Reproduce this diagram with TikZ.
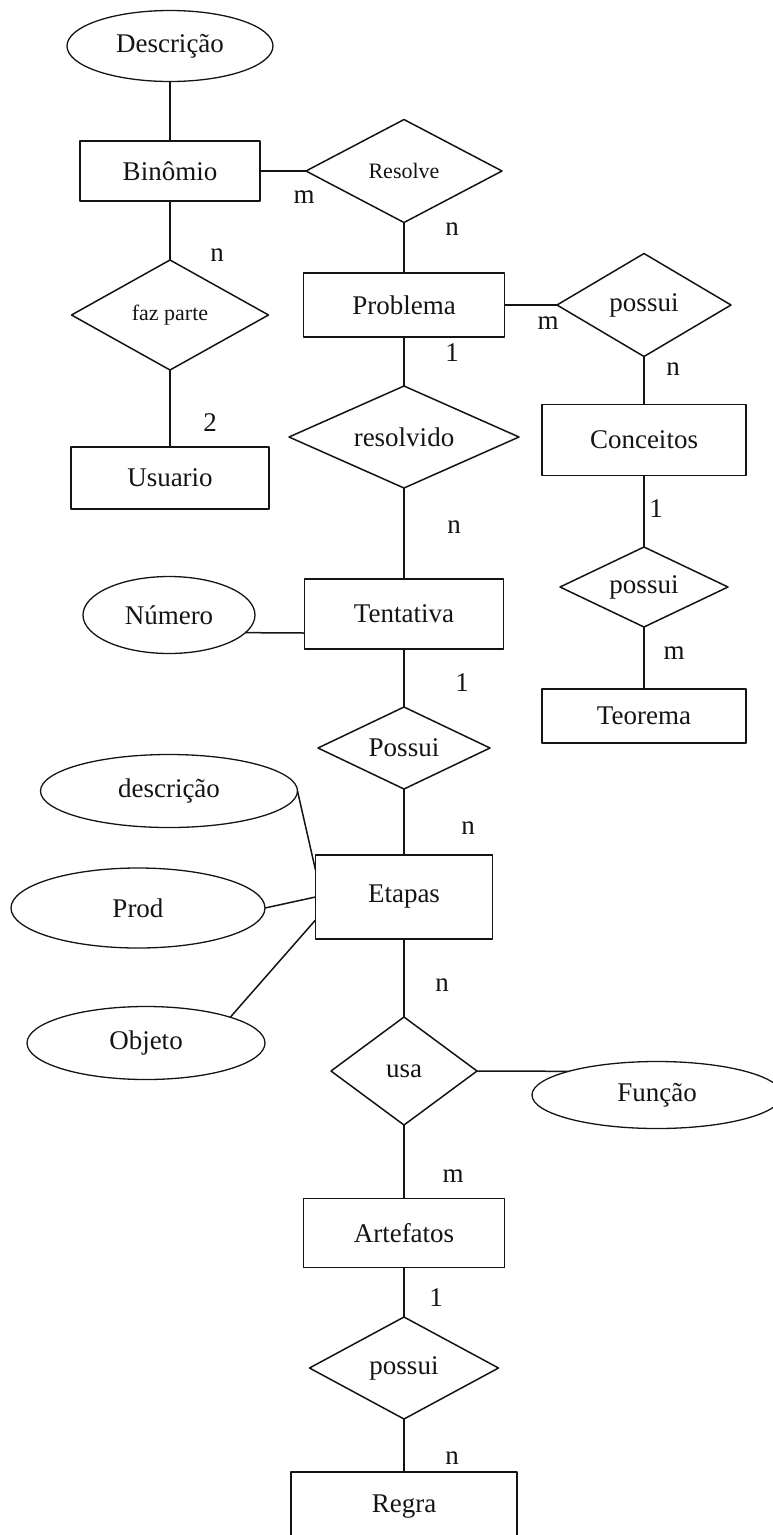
\documentclass[tikz,border=0pt]{standalone}
\usepackage{fontspec}
\setmainfont{Liberation Serif}
\usetikzlibrary{shapes.geometric,calc}
\definecolor{erink}{RGB}{20,20,20}
\newcommand{\erfont}{\fontsize{27}{30}\selectfont}
\newcommand{\ersmall}{\fontsize{22}{25}\selectfont}
\tikzset{
  erbox/.style={
    draw=erink, line width=1.5pt, inner sep=0pt, outer sep=0pt,
    align=center, font=\erfont, text=erink
  },
  ent/.style={erbox, rectangle},
  rel/.style={erbox, diamond, aspect=2},
  att/.style={erbox, ellipse, line width=1.3pt},
  lnk/.style={draw=erink, line width=1.5pt},
  card/.style={font=\erfont, text=erink, inner sep=0pt},
  every picture/.append style={line join=round}
}

\begin{document}
\begin{tikzpicture}[x=1pt, y=-1pt]
  \useasboundingbox (0,0) rectangle (773,1535);
  \clip (0,0) rectangle (773,1535);
  % entidades
  \node[ent, minimum width=180, minimum height=60] (binomio) at (170,171) {Binômio};
  \node[ent, minimum width=198, minimum height=62] (usuario) at (170,478) {Usuario};
  \node[ent, minimum width=201, minimum height=64] (problema) at (404,305) {Problema};
  \node[ent, minimum width=204, minimum height=71] (conceitos) at (644,440) {Conceitos};
  \node[ent, minimum width=204, minimum height=54] (teorema) at (644,716) {Teorema};
  \node[ent, minimum width=199, minimum height=70] (tentativa) at (404,614) {Tentativa};
  \node[ent, minimum width=177, minimum height=84] (etapas) at (404,897) {Etapas};
  \node[ent, minimum width=201, minimum height=69] (artefatos) at (404,1233) {Artefatos};
  \node[ent, minimum width=226, minimum height=70] (regra) at (404,1507) {Regra};
  % relacionamentos
  \node[rel, font=\ersmall, minimum width=196, minimum height=103] (resolve) at (404,171) {Resolve};
  \node[rel, font=\ersmall, minimum width=197, minimum height=110] (fazparte) at (170,315) {faz parte};
  \node[rel, minimum width=174, minimum height=103] (possuiA) at (644,305) {possui};
  \node[rel, minimum width=230, minimum height=102] (resolvido) at (404,437) {resolvido};
  \node[rel, minimum width=168, minimum height=80] (possuiB) at (644,587) {possui};
  \node[rel, minimum width=172, minimum height=82] (possuiC) at (404,748) {Possui};
  \node[rel, minimum width=146, minimum height=108] (usa) at (404,1071) {usa};
  \node[rel, minimum width=189, minimum height=102] (possuiD) at (404,1368) {possui};
  % atributos
  \node[att, minimum width=206, minimum height=71] (descricao) at (170,46) {Descrição};
  \node[att, minimum width=172, minimum height=77] (numero) at (169,615) {Número};
  \node[att, minimum width=257, minimum height=73] (descr) at (169,791) {descrição};
  \node[att, minimum width=254, minimum height=80] (prod) at (138,908) {Prod};
  \node[att, minimum width=238, minimum height=73] (objeto) at (146,1043) {Objeto};
  \node[att, minimum width=250, minimum height=67] (funcao) at (657,1095) {Função};
  % pontos de ligacao
  \coordinate (tentW) at ($(tentativa.west)+(0,19)$);
  \coordinate (etapasA) at ($(etapas.west)+(0,-27)$);
  \coordinate (etapasC) at ($(etapas.west)+(0,23)$);
  % ligacoes
  \draw[lnk] (descricao) -- (binomio);
  \draw[lnk] (binomio) -- (resolve);
  \draw[lnk] (binomio) -- (fazparte);
  \draw[lnk] (fazparte) -- (usuario);
  \draw[lnk] (resolve) -- (problema);
  \draw[lnk] (problema) -- (possuiA);
  \draw[lnk] (possuiA) -- (conceitos);
  \draw[lnk] (conceitos) -- (possuiB);
  \draw[lnk] (possuiB) -- (teorema);
  \draw[lnk] (problema) -- (resolvido);
  \draw[lnk] (resolvido) -- (tentativa);
  \draw[lnk] (numero.-13) -- (tentW);
  \draw[lnk] (tentativa) -- (possuiC);
  \draw[lnk] (possuiC) -- (etapas);
  \draw[lnk] (descr.east) -- (etapasA);
  \draw[lnk] (prod.east) -- (etapas.west);
  \draw[lnk] (objeto.17) -- (etapasC);
  \draw[lnk] (etapas) -- (usa);
  \draw[lnk] (usa.east) -- (funcao.165);
  \draw[lnk] (usa) -- (artefatos);
  \draw[lnk] (artefatos) -- (possuiD);
  \draw[lnk] (possuiD) -- (regra);
  % cardinalidades
  \node[card] (cBinRes) at (304,197) {m};
  \node[card] (cResProb) at (452,229) {n};
  \node[card] (cBinFaz) at (217,255) {n};
  \node[card] (cFazUsu) at (210,423) {2};
  \node[card] (cProbPos) at (548,323) {m};
  \node[card] (cPosConc) at (673,369) {n};
  \node[card] (cProbRes) at (452,353) {1};
  \node[card] (cResTent) at (454,527) {n};
  \node[card] (cConcPos) at (656,509) {1};
  \node[card] (cPosTeo) at (674,653) {m};
  \node[card] (cTentPos) at (462,683) {1};
  \node[card] (cPosEtap) at (468,828) {n};
  \node[card] (cEtapUsa) at (442,985) {n};
  \node[card] (cUsaArt) at (453,1176) {m};
  \node[card] (cArtPos) at (436,1298) {1};
  \node[card] (cPosReg) at (452,1458) {n};
\end{tikzpicture}
\end{document}
